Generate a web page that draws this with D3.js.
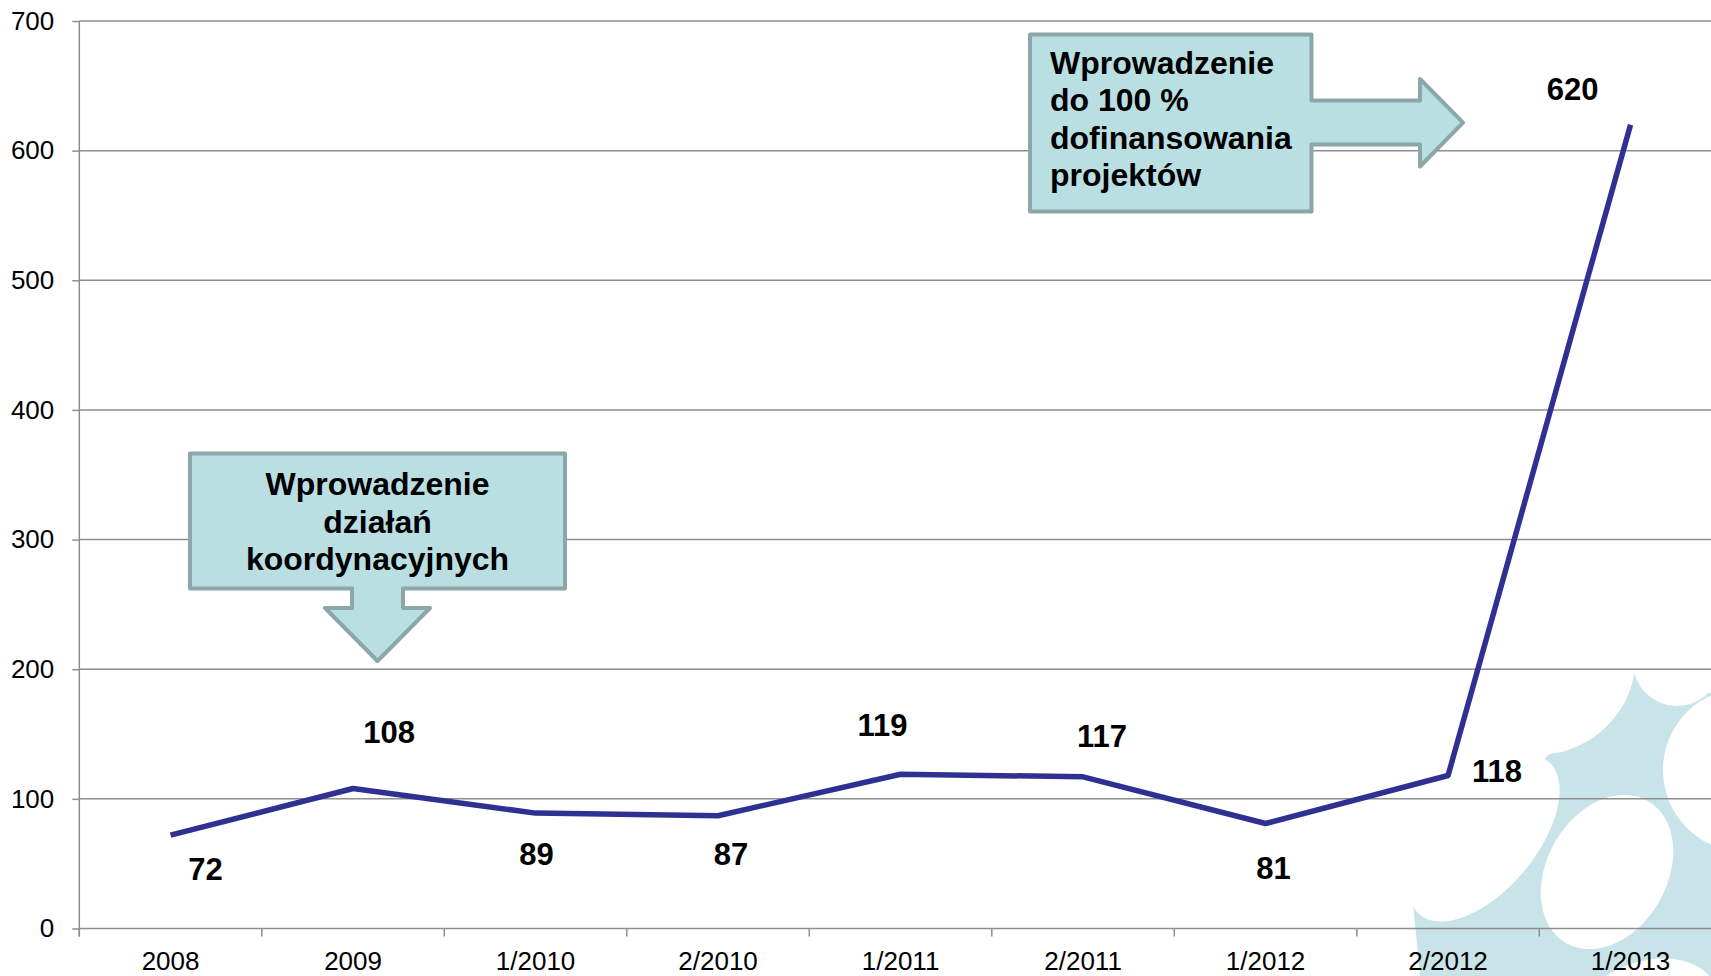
<!DOCTYPE html>
<html>
<head>
<meta charset="utf-8">
<script src="https://cdn.jsdelivr.net/npm/d3@7"></script>
<style>
  html, body { margin: 0; padding: 0; background: #fff; }
  svg { display: block; font-family: "Liberation Sans", Arial, sans-serif; }
</style>
</head>
<body>
<div class="chart-section"></div>
<script>
const categories = ["2008", "2009", "1/2010", "2/2010", "1/2011", "2/2011", "1/2012", "2/2012", "1/2013"];
const values = [72, 108, 89, 87, 119, 117, 81, 118, 620];
const yTicks = [0, 100, 200, 300, 400, 500, 600, 700];
const noteLeft = ["Wprowadzenie", "działań", "koordynacyjnych"];
const noteRight = ["Wprowadzenie", "do 100 %", "dofinansowania", "projektów"];

const width = 1711;
const height = 976;
const left = 79.3;
const bottom = 928.5;

const svg = d3
  .select(".chart-section")
  .append("svg")
  .attr("width", width)
  .attr("height", height)
  .attr("viewBox", [0, 0, width, height]);

// band scale runs a little past the right edge, the picture is cropped there
const x = d3.scaleBand().domain(categories).range([left, left + 182.5 * categories.length]);
const y = d3.scaleLinear().domain([0, 700]).range([bottom, 21]);

// pale logo shape in the bottom right corner
const deco = svg.append("g");
deco
  .append("path")
  .attr("d", "M1635,673 L1708,693 L1711,693 L1711,976 L1420,976 L1413,903 L1548,755 Z")
  .attr("fill", "#c9e4e8");
const holes = [
  { cx: 1537, cy: 656, rx: 99, ry: 99, r: 0 },
  { cx: 1677, cy: 662, rx: 44, ry: 44, r: 0 },
  { cx: 1745, cy: 770, rx: 82, ry: 82, r: 0 },
  { cx: 1484, cy: 838, rx: 100, ry: 52, r: -50 },
  { cx: 1607, cy: 872, rx: 60, ry: 82, r: 30 },
  { cx: 1645, cy: 1012, rx: 75, ry: 50, r: -20 },
];
deco
  .selectAll("ellipse")
  .data(holes)
  .join("ellipse")
  .attr("transform", (d) => `translate(${d.cx},${d.cy}) rotate(${d.r})`)
  .attr("rx", (d) => d.rx)
  .attr("ry", (d) => d.ry)
  .attr("fill", "#fff");

// gridlines
svg
  .append("g")
  .selectAll("line")
  .data(yTicks)
  .join("line")
  .attr("x1", left)
  .attr("x2", width)
  .attr("y1", (d) => y(d))
  .attr("y2", (d) => y(d))
  .attr("stroke", "#8e8e8e")
  .attr("stroke-width", 1.5);

// y axis
const yAxis = svg
  .append("g")
  .attr("transform", `translate(${left},0)`)
  .call(d3.axisLeft(y).tickValues(yTicks).tickSize(7).tickPadding(18));
yAxis.select(".domain").attr("stroke", "#8e8e8e").attr("stroke-width", 1.5)
  .attr("d", `M0,${y(700)}V${bottom + 8}`);
yAxis.selectAll(".tick line").attr("stroke", "#8e8e8e").attr("stroke-width", 1.5);
yAxis.selectAll(".tick text")
  .attr("font-size", 26)
  .attr("font-family", "Liberation Sans, Arial, sans-serif")
  .attr("fill", "#000");

// x axis: labels at band centres, ticks at band edges
const xAxis = svg
  .append("g")
  .attr("transform", `translate(0,${bottom})`)
  .call(d3.axisBottom(x).tickSize(0).tickPadding(23));
xAxis.select(".domain").remove();
xAxis.selectAll(".tick text")
  .attr("font-size", 26)
  .attr("font-family", "Liberation Sans, Arial, sans-serif")
  .attr("fill", "#000");
svg
  .append("g")
  .selectAll("line")
  .data(categories)
  .join("line")
  .attr("x1", (d) => x(d))
  .attr("x2", (d) => x(d))
  .attr("y1", bottom)
  .attr("y2", bottom + 8)
  .attr("stroke", "#8e8e8e")
  .attr("stroke-width", 1.5);

// series line
const pts = categories.map((c, i) => [x(c) + x.bandwidth() / 2, y(values[i])]);
svg
  .append("path")
  .attr("d", d3.line()(pts))
  .attr("fill", "none")
  .attr("stroke", "#2e3192")
  .attr("stroke-width", 5.5)
  .attr("stroke-linejoin", "round");

// value labels, nudged around the points like the original
const labelShift = [[35, 34], [36, -57], [1, 41], [13, 38], [-18, -49], [19, -41], [8, 44], [49, -5], [-58, -36]];
svg
  .append("g")
  .selectAll("text")
  .data(values)
  .join("text")
  .attr("x", (d, i) => pts[i][0] + labelShift[i][0])
  .attr("y", (d, i) => pts[i][1] + labelShift[i][1])
  .attr("dy", "0.36em")
  .attr("text-anchor", "middle")
  .attr("font-size", 31)
  .attr("font-weight", "bold")
  .text((d) => d);

// callouts
const noteFill = "#badfe2";
const noteStroke = "#8ca6a9";

svg
  .append("path")
  .attr("d", "M190,453.5 H565 V588.5 H403 V608 H430 L377.5,661 L325,608 H352 V588.5 H190 Z")
  .attr("fill", noteFill)
  .attr("stroke", noteStroke)
  .attr("stroke-width", 4)
  .attr("stroke-linejoin", "round");
svg
  .append("text")
  .attr("text-anchor", "middle")
  .attr("font-size", 32)
  .attr("font-weight", "bold")
  .selectAll("tspan")
  .data(noteLeft)
  .join("tspan")
  .attr("x", 377.5)
  .attr("y", (d, i) => 495 + i * 37.5)
  .text((d) => d);

svg
  .append("path")
  .attr("d", "M1030,34.5 H1311.5 V100.5 H1420 V79 L1463,122.7 L1420,166.5 V144.5 H1311.5 V211.5 H1030 Z")
  .attr("fill", noteFill)
  .attr("stroke", noteStroke)
  .attr("stroke-width", 4)
  .attr("stroke-linejoin", "round");
svg
  .append("text")
  .attr("font-size", 32)
  .attr("font-weight", "bold")
  .selectAll("tspan")
  .data(noteRight)
  .join("tspan")
  .attr("x", 1050)
  .attr("y", (d, i) => 74 + i * 37.3)
  .text((d) => d);
</script>
</body>
</html>
